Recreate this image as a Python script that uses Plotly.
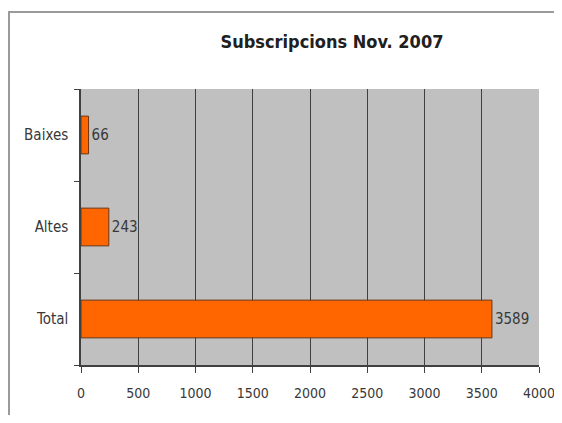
import plotly.graph_objects as go

categories = ["Total", "Altes", "Baixes"]
values = [3589, 243, 66]
x_ticks = [0, 500, 1000, 1500, 2000, 2500, 3000, 3500, 4000]

font_family = "DejaVu Sans Condensed, Liberation Sans Narrow, Arial Narrow, sans-serif"
txt_color = "#383838"

# page body has an 8px margin on every side: keep the figure inside the 562x423 window
OFF = 8
W, H = 562 - 2 * OFF, 423 - 2 * OFF
L, T = 81 - OFF, 89 - OFF
R = W - (539 - OFF)
B = H - (365 - OFF)
pw, ph = W - L - R, H - T - B

fig = go.Figure()
fig.add_trace(go.Bar(
    y=categories, x=values, orientation="h",
    marker=dict(color="#ff6600", line=dict(color="#6b3510", width=1)),
    text=[str(v) for v in values], textposition="outside",
    textfont=dict(family=font_family, size=15, color=txt_color),
    cliponaxis=False,
))

fig.update_layout(
    width=W, height=H,
    margin=dict(l=L, r=R, t=T, b=B),
    paper_bgcolor="white", plot_bgcolor="#c0c0c0",
    bargap=0.59,
    showlegend=False,
    title=dict(text="<b>Subscripcions Nov. 2007</b>", x=(332 - OFF) / W, xanchor="center",
               y=1 - (42 - OFF) / H, yanchor="middle",
               font=dict(family=font_family, size=18, color="#202020")),
    font=dict(family=font_family, size=15, color=txt_color),
)
fig.update_xaxes(range=[0, 4000], tickvals=x_ticks, showgrid=True, gridcolor="#404040",
                 gridwidth=1, ticks="outside", ticklen=6, tickcolor="#404040",
                 showline=True, linecolor="#404040", linewidth=1.5, zeroline=False,
                 ticklabelstandoff=8, ticklabeloverflow="allow", automargin=False,
                 tickfont=dict(family=font_family, size=14, color=txt_color))
fig.update_yaxes(tickson="boundaries", ticks="outside", ticklen=5, tickcolor="#404040",
                 showline=True, linecolor="#404040", linewidth=1.5, showgrid=False,
                 ticklabelstandoff=8, automargin=False,
                 tickfont=dict(family=font_family, size=15, color=txt_color))

# outer frame
fig.add_shape(type="rect", xref="paper", yref="paper",
              x0=(9 - OFF - L) / pw, x1=(W + 10 - L) / pw,
              y0=(ph - (H + 10 - T)) / ph, y1=(ph + T - (12 - OFF)) / ph,
              line=dict(color="#9a9a9a", width=2), fillcolor="rgba(0,0,0,0)", layer="below")

fig.write_html("out.html", config={"displayModeBar": False})
